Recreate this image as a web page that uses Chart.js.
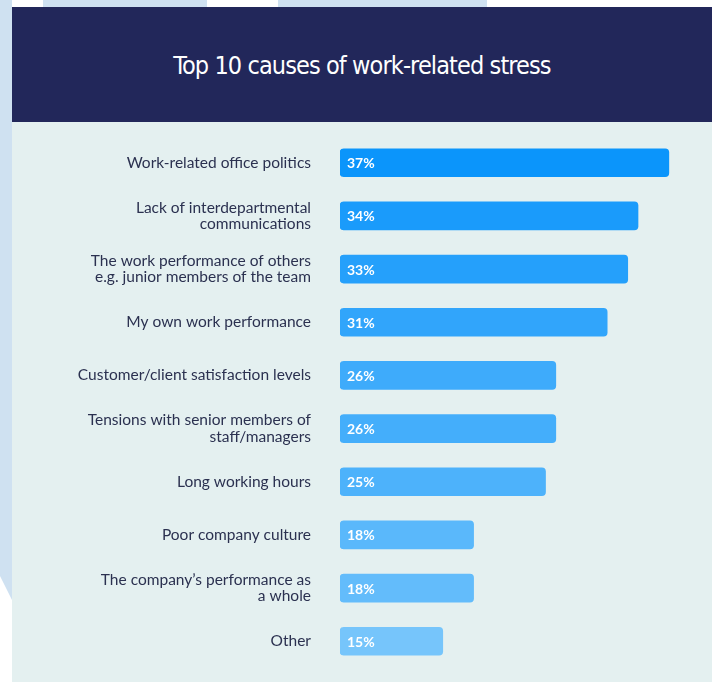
<!DOCTYPE html>
<html>
<head>
<meta charset="utf-8">
<script src="https://cdn.jsdelivr.net/npm/chart.js@4.4.1/dist/chart.umd.min.js"></script>
<style>
    html, body { margin: 0; padding: 0; }
    body { width: 712px; height: 682px; position: relative; overflow: hidden; background: #ffffff; }
    .deco { position: absolute; background: #cfe1f1; }
    .header {
        position: absolute; left: 12px; top: 7px; width: 700px; height: 115px;
        background: #22275a; color: #ffffff;
        font-family: "DejaVu Sans Condensed", "Liberation Sans Narrow", sans-serif;
        font-size: 25px; text-align: center; line-height: 118px; letter-spacing: -0.9px;
    }
    .panel { position: absolute; left: 12px; top: 122px; width: 700px; height: 560px; background: #e4f0f0; }
    #stressChart { position: absolute; left: 12px; top: 99px; }
</style>
</head>
<body>
<div class="deco" style="left:43px; top:0; width:164px; height:8px;"></div>
<div class="deco" style="left:278px; top:0; width:209px; height:8px;"></div>
<div class="deco" style="left:0; top:0; width:12px; height:600px; clip-path: polygon(0 0, 100% 0, 100% 100%, 0 96%);"></div>
<div class="header">Top 10 causes of work-related stress</div>
<div class="panel"></div>
<canvas id="stressChart" width="700" height="606"></canvas>

<script>
// causes, top to bottom
const causes = [
    'Work-related office politics',
    ['Lack of interdepartmental', 'communications'],
    ['The work performance of others', 'e.g. junior members of the team'],
    'My own work performance',
    'Customer/client satisfaction levels',
    ['Tensions with senior members of', 'staff/managers'],
    'Long working hours',
    'Poor company culture',
    ["The company\u2019s performance as", 'a whole'],
    'Other'
];
const percentages = [37, 34, 33, 31, 26, 26, 25, 18, 18, 15];
const barColors = ['#0b95fb', '#1a9bfb', '#25a0fb', '#31a5fb', '#3eabfb', '#44aefb', '#4db2fb', '#5ab8fb', '#63bcfb', '#76c5fb'];
const AXIS_START = 5;
const AXIS_END = 41.2;

// white "37%" text at the start of each bar
const barValueLabels = {
    id: 'barValueLabels',
    afterDatasetsDraw(chart) {
        const ctx = chart.ctx;
        const meta = chart.getDatasetMeta(0);
        ctx.save();
        ctx.fillStyle = '#ffffff';
        ctx.font = 'bold 14px Lato, sans-serif';
        ctx.textBaseline = 'middle';
        ctx.textAlign = 'left';
        meta.data.forEach((bar, i) => {
            ctx.fillText(percentages[i] + '%', bar.base + 7, bar.y + 1);
        });
        ctx.restore();
    }
};

const ctx = document.getElementById('stressChart').getContext('2d');
new Chart(ctx, {
    type: 'bar',
    data: {
        labels: causes,
        datasets: [{
            data: percentages,
            base: AXIS_START,
            backgroundColor: barColors,
            borderRadius: 4,
            borderSkipped: false,
            barThickness: 28
        }]
    },
    options: {
        indexAxis: 'y',
        responsive: false,
        animation: false,
        layout: { padding: 0 },
        plugins: { legend: { display: false }, tooltip: { enabled: false } },
        scales: {
            x: { display: false, min: AXIS_START, max: AXIS_END },
            y: {
                grid: { display: false, drawTicks: false },
                border: { display: false },
                afterFit: (scale) => { scale.width = 328; },
                ticks: {
                    padding: 29,
                    color: '#2b3150',
                    font: { family: 'Lato, sans-serif', size: 15.5, lineHeight: 1.05 }
                }
            }
        }
    },
    plugins: [barValueLabels]
});
</script>
</body>
</html>
